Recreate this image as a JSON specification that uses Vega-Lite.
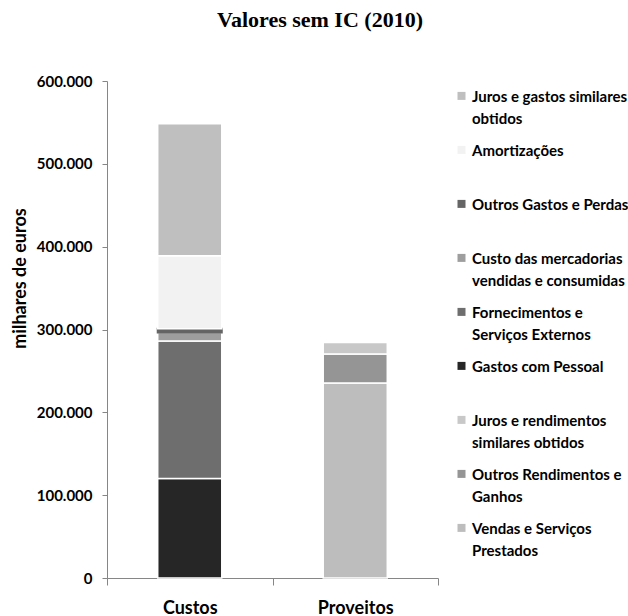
{
  "$schema": "https://vega.github.io/schema/vega-lite/v6.json",
  "width": 331,
  "height": 497,
  "autosize": {"type": "none"},
  "padding": {"left": 107, "top": 81, "right": 190, "bottom": 38},
  "background": "#ffffff",
  "title": {
    "text": "Valores sem IC (2010)",
    "font": "Liberation Serif",
    "fontSize": 22,
    "fontWeight": "bold",
    "color": "#000000",
    "anchor": "middle",
    "frame": "bounds",
    "offset": 42
  },
  "config": {
    "view": {"stroke": null},
    "style": {"guide-label": {"lineHeight": 22}}
  },
  "data": {
    "values": [
      {"tipo": "Custos", "serie": "Gastos com Pessoal", "valor": 120000, "ordem": 1},
      {"tipo": "Custos", "serie": "Fornecimentos e Serviços Externos", "valor": 166000, "ordem": 2},
      {"tipo": "Custos", "serie": "Custo das mercadorias vendidas e consumidas", "valor": 10500, "ordem": 3},
      {"tipo": "Custos", "serie": "Outros Gastos e Perdas", "valor": 4500, "ordem": 4},
      {"tipo": "Custos", "serie": "Amortizações", "valor": 88000, "ordem": 5},
      {"tipo": "Custos", "serie": "Juros e gastos similares obtidos", "valor": 159500, "ordem": 6},
      {"tipo": "Proveitos", "serie": "Vendas e Serviços Prestados", "valor": 235500, "ordem": 1},
      {"tipo": "Proveitos", "serie": "Outros Rendimentos e Ganhos", "valor": 35000, "ordem": 2},
      {"tipo": "Proveitos", "serie": "Juros e rendimentos similares obtidos", "valor": 13700, "ordem": 3}
    ]
  },
  "mark": {"type": "bar", "width": {"band": 0.387}},
  "encoding": {
    "x": {
      "field": "tipo",
      "type": "nominal",
      "sort": ["Custos", "Proveitos"],
      "scale": {"paddingInner": 0, "paddingOuter": 0},
      "axis": {
        "title": null,
        "labelAngle": 0,
        "labelFont": "Lato",
        "labelFontSize": 18,
        "labelFontWeight": "bold",
        "labelColor": "#000000",
        "labelPadding": 14,
        "tickSize": 7,
        "tickBand": "extent",
        "tickColor": "#868686",
        "domainColor": "#868686",
        "grid": false
      }
    },
    "y": {
      "field": "valor",
      "type": "quantitative",
      "stack": "zero",
      "scale": {"domain": [0, 600000], "nice": false},
      "axis": {
        "title": "milhares de euros",
        "titleFont": "Lato",
        "titleFontSize": 18,
        "titleFontWeight": "bold",
        "titleColor": "#000000",
        "titleX": -87,
        "titleY": 197,
        "titleAngle": -90,
        "titleBaseline": "middle",
        "titleAlign": "center",
        "values": [0, 100000, 200000, 300000, 400000, 500000, 600000],
        "labelExpr": "replace(format(datum.value, ',d'), regexp(',', 'g'), '.')",
        "labelFont": "Lato",
        "labelFontSize": 15,
        "labelFontWeight": "bold",
        "labelColor": "#000000",
        "labelPadding": 10,
        "tickSize": 5,
        "tickColor": "#868686",
        "domainColor": "#868686",
        "grid": false
      }
    },
    "color": {
      "field": "serie",
      "type": "nominal",
      "scale": {
        "domain": [
          "Juros e gastos similares obtidos",
          "Amortizações",
          "Outros Gastos e Perdas",
          "Custo das mercadorias vendidas e consumidas",
          "Fornecimentos e Serviços Externos",
          "Gastos com Pessoal",
          "Juros e rendimentos similares obtidos",
          "Outros Rendimentos e Ganhos",
          "Vendas e Serviços Prestados"
        ],
        "range": ["#bfbfbf", "#f2f2f2", "#656565", "#9e9e9e", "#6e6e6e", "#262626", "#c8c8c8", "#959595", "#bdbdbd"]
      },
      "legend": {
        "title": null,
        "orient": "none",
        "legendX": 347,
        "legendY": 1,
        "direction": "vertical",
        "labelFont": "Lato",
        "labelFontSize": 15,
        "labelFontWeight": "bold",
        "labelColor": "#000000",
        "labelLimit": 300,
        "labelBaseline": "top",
        "labelOffset": 3,
        "labelExpr": "datum.label == 'Juros e gastos similares obtidos' ? ['Juros e gastos similares', 'obtidos'] : datum.label == 'Custo das mercadorias vendidas e consumidas' ? ['Custo das mercadorias', 'vendidas e consumidas'] : datum.label == 'Fornecimentos e Serviços Externos' ? ['Fornecimentos e', 'Serviços Externos'] : datum.label == 'Juros e rendimentos similares obtidos' ? ['Juros e rendimentos', 'similares obtidos'] : datum.label == 'Outros Rendimentos e Ganhos' ? ['Outros Rendimentos e', 'Ganhos'] : datum.label == 'Vendas e Serviços Prestados' ? ['Vendas e Serviços', 'Prestados'] : [datum.label, '']",
        "symbolType": "M-1,0.6H1V2.6H-1Z",
        "symbolSize": 64,
        "symbolStrokeWidth": 0,
        "rowPadding": 9
      }
    },
    "order": {"field": "ordem", "type": "quantitative"},
    "stroke": {
      "condition": {"test": "datum.serie === 'Outros Gastos e Perdas'", "value": "#656565"},
      "value": "#ffffff"
    },
    "strokeWidth": {
      "condition": {"test": "datum.serie === 'Outros Gastos e Perdas'", "value": 2},
      "value": 1.5
    }
  }
}
